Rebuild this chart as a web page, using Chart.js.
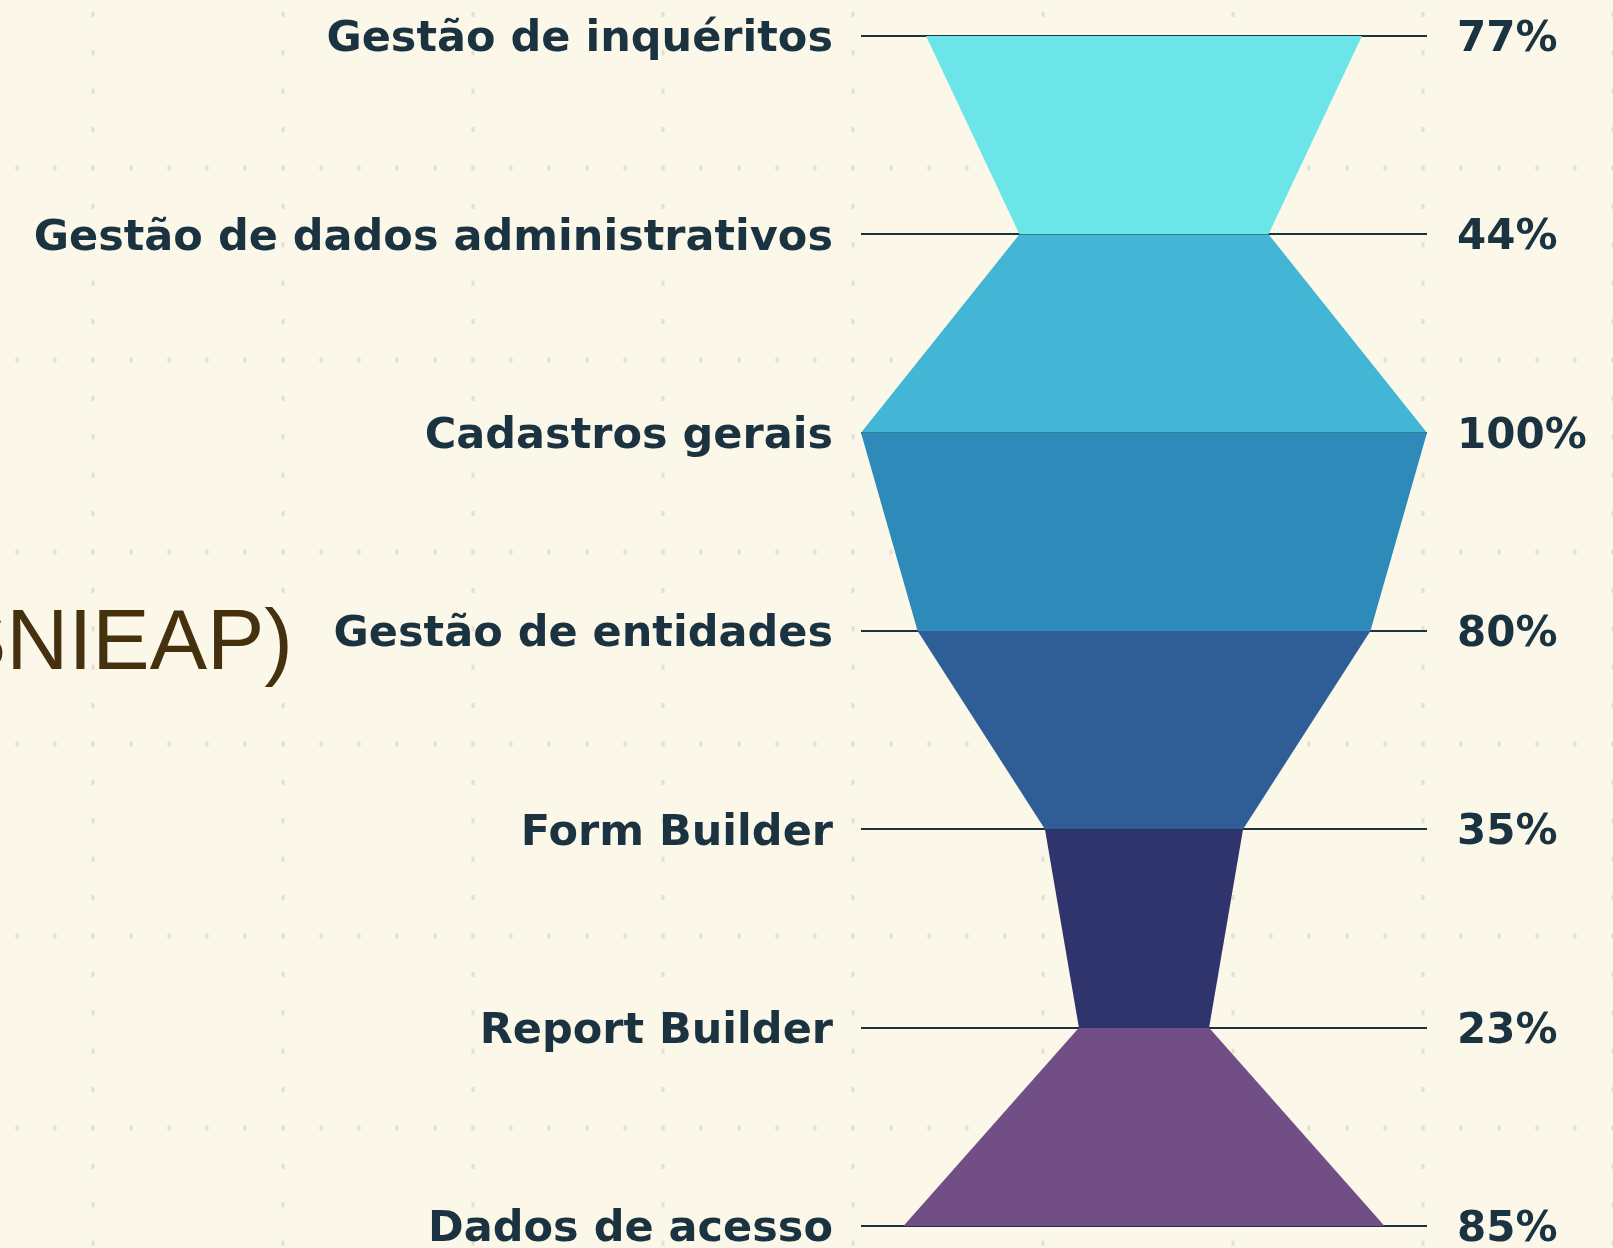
<!DOCTYPE html>
<html>
<head>
<meta charset="utf-8">
<script src="https://cdn.jsdelivr.net/npm/chart.js@4.4.1/dist/chart.umd.min.js"></script>
<style>
  html, body { margin: 0; padding: 0; overflow: hidden; background: #fbf8ea; }
  #wrap { width: 1613px; height: 1248px; position: relative; }
</style>
</head>
<body>
<div id="wrap"><canvas id="funnelChart"></canvas></div>
<script>
// funnel levels, top to bottom
const categories = [
    'Gestão de inquéritos',
    'Gestão de dados administrativos',
    'Cadastros gerais',
    'Gestão de entidades',
    'Form Builder',
    'Report Builder',
    'Dados de acesso'
];
const values = [77, 44, 100, 80, 35, 23, 85];
const percentLabels = ['77%', '44%', '100%', '80%', '35%', '23%', '85%'];
// one colour per band between two levels
const bandColors = ['#6be5e8', '#43b6d6', '#2e8ab9', '#2f5e96', '#30346c', '#724e87'];

const textColor = '#1b3340';

// cream paper with dotted grid + cut-off title on the left
const backdrop = {
    id: 'backdrop',
    beforeDraw(chart) {
        const ctx = chart.ctx;
        const w = chart.width, h = chart.height;
        ctx.save();
        ctx.fillStyle = '#fbf8ea';
        ctx.fillRect(0, 0, w, h);

        ctx.fillStyle = '#e2dfd3';
        const colStep = 190, rowStep = 192;
        const x0 = 93, y0 = 168;
        // vertical dotted columns
        for (let x = x0; x < w + 5; x += colStep) {
            for (let y = y0 - 4 * rowStep / 5; y < h; y += rowStep / 5) {
                ctx.fillRect(x - 1.5, y - 2.5, 3, 5);
            }
        }
        // horizontal dotted rows
        for (let y = y0; y < h; y += rowStep) {
            for (let x = x0 - 2 * colStep / 5; x < w + 5; x += colStep / 5) {
                ctx.fillRect(x - 1.5, y - 2.5, 3, 5);
            }
        }

        ctx.fillStyle = '#46310f';
        ctx.font = '86px "Liberation Sans", Arial, sans-serif';
        ctx.textAlign = 'right';
        ctx.textBaseline = 'alphabetic';
        ctx.fillText('SNIEAP)', 293, 669);
        ctx.restore();
    }
};

// keep tick label padding from shrinking the plot vertically
function fixWidth(width) {
    return function(scale) {
        scale.width = width;
        scale.paddingTop = 0;
        scale.paddingBottom = 0;
    };
}

const ctx = document.getElementById('funnelChart').getContext('2d');

const chart = new Chart(ctx, {
    type: 'line',
    data: {
        labels: categories,
        datasets: [
            {
                label: 'left edge',
                data: values.map(v => -v / 2),
                borderColor: 'transparent',
                pointRadius: 0,
                fill: false
            },
            {
                label: 'right edge',
                data: values.map(v => v / 2),
                borderColor: 'transparent',
                backgroundColor: bandColors[0],
                pointRadius: 0,
                fill: '-1',
                segment: {
                    backgroundColor: c => bandColors[c.p0DataIndex]
                }
            }
        ]
    },
    options: {
        indexAxis: 'y',
        responsive: true,
        maintainAspectRatio: false,
        animation: false,
        layout: {
            padding: { top: 36, bottom: 22, left: 0, right: 0 }
        },
        plugins: {
            legend: { display: false },
            tooltip: { enabled: false }
        },
        scales: {
            x: {
                type: 'linear',
                min: -50,
                max: 50,
                display: false
            },
            y: {
                type: 'category',
                position: 'left',
                grid: {
                    color: textColor,
                    lineWidth: 2,
                    drawTicks: false
                },
                border: { display: false },
                ticks: {
                    color: textColor,
                    padding: 28,
                    labelOffset: 4,
                    font: { family: '"DejaVu Sans", sans-serif', weight: 'bold', size: 43, lineHeight: 1 }
                },
                afterFit: fixWidth(861)
            },
            y2: {
                type: 'category',
                position: 'right',
                labels: percentLabels,
                grid: { display: false },
                border: { display: false },
                ticks: {
                    color: textColor,
                    padding: 22,
                    labelOffset: 4,
                    font: { family: '"DejaVu Sans", sans-serif', weight: 'bold', size: 42, lineHeight: 1 }
                },
                afterFit: fixWidth(186)
            }
        }
    },
    plugins: [backdrop]
});
</script>
</body>
</html>
